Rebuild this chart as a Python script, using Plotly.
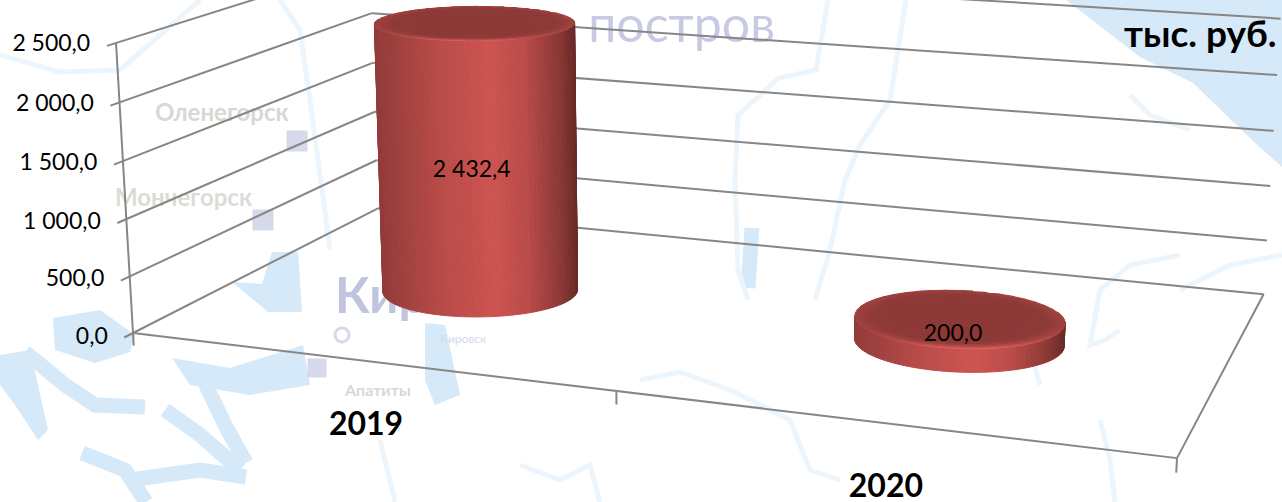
import numpy as np
import plotly.graph_objects as go

# ---------- data ----------
categories = ["2019", "2020"]
values = [2432.4, 200.0]
value_labels = ["2 432,4", "200,0"]
tick_values = [0, 500, 1000, 1500, 2000, 2500]
tick_labels = ["0,0", "500,0", "1 000,0", "1 500,0", "2 000,0", "2 500,0"]
unit_label = "тыс. руб."
axis_max = 2500.0

W, H = 1282, 502
GRID = "#868686"
FONT = "Lato, Carlito, Calibri, sans-serif"

# ---------- camera of the 3-D box (homography from unit box to the axes) ----------
vp_x, vp_y, vp_z = np.array([-6400., -450., 1.]), np.array([1652., -440., 1.]), np.array([683., 9730., 1.])
origin = np.array([133., 333., 1.])
front_right_x, back_left_x, top_left_y = 1177., 378., 43.
a = (front_right_x - origin[0]) / (vp_x[0] - front_right_x)
b = (back_left_x - origin[0]) / (vp_y[0] - back_left_x)
c = (top_left_y - origin[1]) / (vp_z[1] - top_left_y)
P = np.column_stack([a * vp_x, b * vp_y, c * vp_z, origin])


def proj(x, y, z):
    h = P @ np.vstack([np.asarray(x, float), np.asarray(y, float), np.asarray(z, float), np.ones_like(np.asarray(x, float))])
    return h[0] / h[2], h[1] / h[2]


def p1(x, y, z):
    u, v = proj(np.array([x]), np.array([y]), np.array([z]))
    return float(u[0]), float(v[0])


# true proportions of the box, so that the cylinders have round sections
K = np.array([[2518., 0, 695.], [0, 2518., 226.], [0, 0, 1.]])
Ki = np.linalg.inv(K)
Lx = np.linalg.norm(Ki @ P[:, 0])
Ly = np.linalg.norm(Ki @ P[:, 1])
radius = 0.0995 * Lx
rx, ry = radius / Lx, 0.95 * radius / Ly
cat_x = [0.25, 0.75]
cat_y = 0.49

fig = go.Figure()

# ---------- faint map behind the chart ----------
LAKE, RIVER = "#d6e9f8", "#edf5fc"


def path(pts):
    return "M" + " L".join(f"{x},{y}" for x, y in pts)


def below(d, **kw):
    return dict(type="path", path=d, layer="below", xref="x", yref="y", **kw)


shapes = []
blobs = [
    [(1066, 0), (1282, 0), (1282, 167), (1255, 143), (1193, 83), (1140, 57)],
    [(53, 318), (100, 310), (135, 335), (130, 352), (95, 363), (55, 350)],
    [(0, 355), (30, 350), (48, 430), (38, 440), (15, 405), (0, 385)],
    [(172, 358), (230, 368), (303, 345), (310, 385), (250, 395), (190, 385)],
    [(425, 323), (445, 325), (460, 395), (435, 405), (425, 380)],
    [(232, 282), (262, 284), (272, 252), (298, 252), (302, 312), (268, 312)],
]
for pts in blobs:
    shapes.append(below(path(pts) + " Z", fillcolor=LAKE, line=dict(width=0)))
thick = [
    [(25, 352), (65, 385), (95, 405), (145, 407)], [(205, 383), (225, 425), (246, 463)],
    [(165, 410), (200, 435), (240, 470)], [(82, 453), (125, 470), (146, 502)], [(130, 480), (200, 470), (246, 477)],
    [(752, 228), (748, 288)],
]
thin = [
    [(828, 0), (816, 70), (779, 78), (738, 115), (735, 180), (738, 270), (748, 300)],
    [(906, 0), (890, 100), (860, 145), (845, 180), (830, 250), (815, 300)],
    [(640, 380), (680, 372), (730, 390), (790, 420), (810, 470), (840, 480)],
    [(1100, 420), (1110, 460), (1115, 502)], [(1120, 330), (1105, 340), (1090, 345), (1100, 290), (1130, 265), (1180, 255)],
    [(920, 290), (1000, 305), (1030, 350), (1040, 385)], [(0, 55), (60, 72), (120, 70), (200, 0)],
    [(280, 0), (300, 30), (310, 100), (330, 250)], [(380, 440), (395, 502)], [(520, 465), (560, 480), (590, 465), (600, 502)],
    [(1130, 95), (1150, 115), (1190, 130)], [(1180, 290), (1230, 265), (1282, 255)],
]
for pts in thick:
    shapes.append(below(path(pts), line=dict(color=LAKE, width=15)))
for pts in thin:
    shapes.append(below(path(pts), line=dict(color=RIVER, width=5)))

map_text = [("Кировск", 335, 300, 50, "#c0c4de", "bold"), ("Оленегорск", 155, 115, 24, "#d8d8d2", "bold"),
            ("Мончегорск", 115, 200, 24, "#dcdcd6", "bold"), ("Апатиты", 345, 392, 16, "#d8d8d2", "bold"),
            ("Кировск", 440, 340, 12, "#d5d8ee", "normal")]
for t, x, y, s, col, wt in map_text:
    fig.add_trace(go.Scatter(x=[x], y=[y], mode="text", text=[t], textposition="middle right",
                             textfont=dict(size=s, color=col, family=FONT, weight=wt), hoverinfo="skip"))
fig.add_trace(go.Scatter(x=[775], y=[29], mode="text", text=["постров"], textposition="middle left",
                         textfont=dict(size=50, color="#c8cae3", family=FONT), hoverinfo="skip"))
fig.add_trace(go.Scatter(x=[297, 263, 317, 342], y=[141, 220, 368, 335], mode="markers", hoverinfo="skip",
                         marker=dict(symbol=["square", "square", "square", "circle-open"], size=[18, 18, 16, 14],
                                     color="#c6c9e2", line=dict(color="#c6c9e2", width=3))))


# ---------- box ----------
def seg(p, q):
    n = 2
    x = np.linspace(p[0], q[0], n); y = np.linspace(p[1], q[1], n); z = np.linspace(p[2], q[2], n)
    u, v = proj(x, y, z)
    fig.add_trace(go.Scatter(x=u, y=v, mode="lines", line=dict(color=GRID, width=2), hoverinfo="skip"))


for tv in tick_values:
    z = tv / axis_max
    seg((0, -0.03, z), (0, 1, z))   # side wall with tick stub
    seg((0, 1, z), (1, 1, z))       # back wall
seg((0, 0, 0), (0, 0, 1))
seg((0, 0, 0), (1, 0, 0))
seg((1, 0, 0), (1, 1, 0))
for xt in (0, 0.5, 1):
    seg((xt, 0, 0), (xt, 0, -0.045))

# tick labels
tx, ty = zip(*[p1(0, -0.045, tv / axis_max) for tv in tick_values])
fig.add_trace(go.Scatter(x=[v - 12 for v in tx], y=[v - 2 for v in ty], mode="text", text=tick_labels,
                         textposition="middle left",
                         textfont=dict(size=23, color="black", family=FONT), hoverinfo="skip"))


# ---------- cylinders ----------
def mix(stops, t):
    xs = [s[0] for s in stops]
    return "rgb(%d,%d,%d)" % tuple(np.interp(t, xs, [s[1][i] for s in stops]) for i in range(3))


SIDE = [(-1, (146, 60, 58)), (-.35, (186, 76, 73)), (.15, (206, 85, 82)), (.5, (186, 76, 73)), (.85, (136, 56, 53)), (1, (104, 42, 40))]


def poly(u, v, col):
    fig.add_trace(go.Scatter(x=list(u) + [u[0]], y=list(v) + [v[0]], mode="lines", fill="toself", fillcolor=col,
                             line=dict(color=col, width=1), hoverinfo="skip"))


def cylinder(cx, val):
    top = val / axis_max
    step = np.radians(3.0)
    th = np.arange(0, 2 * np.pi, step)
    th2 = th + step
    xs, ys = proj(cx + rx * np.cos(th), cat_y + ry * np.sin(th), 0 * th)
    hw = (xs.max() - xs.min()) / 2
    hh = (ys.max() - ys.min()) / 2
    mid = (xs.max() + xs.min()) / 2
    order = np.argsort(ys)
    for i in order:
        if ys[i] < (ys.max() + ys.min()) / 2 - 0.2 * hh:
            continue
        t1, t2 = th[i], th2[i]
        px = np.array([cx + rx * np.cos(t1), cx + rx * np.cos(t2), cx + rx * np.cos(t2), cx + rx * np.cos(t1)])
        py = np.array([cat_y + ry * np.sin(t1), cat_y + ry * np.sin(t2), cat_y + ry * np.sin(t2), cat_y + ry * np.sin(t1)])
        pz = np.array([0, 0, top, top])
        u, v = proj(px, py, pz)
        poly(u, v, mix(SIDE, np.clip((u[:2].mean() - mid) / hw, -1, 1)))
    # top face: rings from the bevel at the rim to the dark centre
    tcx, tcy = p1(cx, cat_y, top)
    rings = [1.0, 0.975, 0.95, 0.92, 0.88, 0.83, 0.77, 0.7]
    dark = (140, 57, 55)
    txs, tys = proj(cx + rx * np.cos(th), cat_y + ry * np.sin(th), top + 0 * th)
    thh = (tys.max() - tys.min()) / 2
    for j in range(len(rings) - 1):
        r1, r2 = rings[j], rings[j + 1]
        f = ((r2 - rings[-1]) / (1 - rings[-1])) ** 1.8
        for t1 in np.arange(0, 2 * np.pi, np.radians(8.0)):
            t2 = t1 + np.radians(8.0)
            px = cx + rx * np.array([r1 * np.cos(t1), r1 * np.cos(t2), r2 * np.cos(t2), r2 * np.cos(t1)])
            py = cat_y + ry * np.array([r1 * np.sin(t1), r1 * np.sin(t2), r2 * np.sin(t2), r2 * np.sin(t1)])
            u, v = proj(px, py, np.full(4, top))
            w = np.clip((v.mean() - tcy) / thh, -1, 1)
            light = np.array([166, 68, 64]) + (np.array([236, 106, 96]) - np.array([166, 68, 64])) * max(w, 0) ** 3
            col = np.array(dark) + (light - np.array(dark)) * f
            poly(u, v, "rgb(%d,%d,%d)" % tuple(col))
    t = np.radians(np.arange(0, 360, 8.0))
    u, v = proj(cx + rings[-1] * rx * np.cos(t), cat_y + rings[-1] * ry * np.sin(t), top + 0 * t)
    poly(u, v, "rgb(%d,%d,%d)" % dark)


for cx, val in zip(cat_x, values):
    cylinder(cx, val)

# ---------- labels ----------
lx, ly = zip(*[p1(cx, cat_y, 0.47 * val / axis_max) for cx, val in zip(cat_x, values)])
fig.add_trace(go.Scatter(x=[v - 6 for v in lx], y=[v + 5 for v in ly], mode="text", text=value_labels,
                         textposition="middle center",
                         textfont=dict(size=23, color="black", family=FONT), hoverinfo="skip"))
cx_, cy_ = zip(*[p1(cx, 0, 0) for cx in cat_x])
fig.add_trace(go.Scatter(x=list(cx_), y=[v + 66 for v in cy_], mode="text", text=categories,
                         textposition="middle center",
                         textfont=dict(size=32, color="black", family=FONT, weight="bold"), hoverinfo="skip"))
fig.add_annotation(x=1279, y=32, xref="x", yref="y", text=unit_label, showarrow=False, xanchor="right",
                   font=dict(size=37, color="black", family=FONT, weight="bold"))

fig.update_layout(width=W, height=H, margin=dict(l=0, r=0, t=0, b=0), showlegend=False,
                  paper_bgcolor="white", plot_bgcolor="white", shapes=shapes,
                  xaxis=dict(range=[0, W], visible=False, fixedrange=True),
                  yaxis=dict(range=[H, 0], visible=False, fixedrange=True))
fig.write_html("out.html", post_script="document.body.style.margin='0';document.body.style.overflow='hidden';",
               config=dict(displayModeBar=False))
